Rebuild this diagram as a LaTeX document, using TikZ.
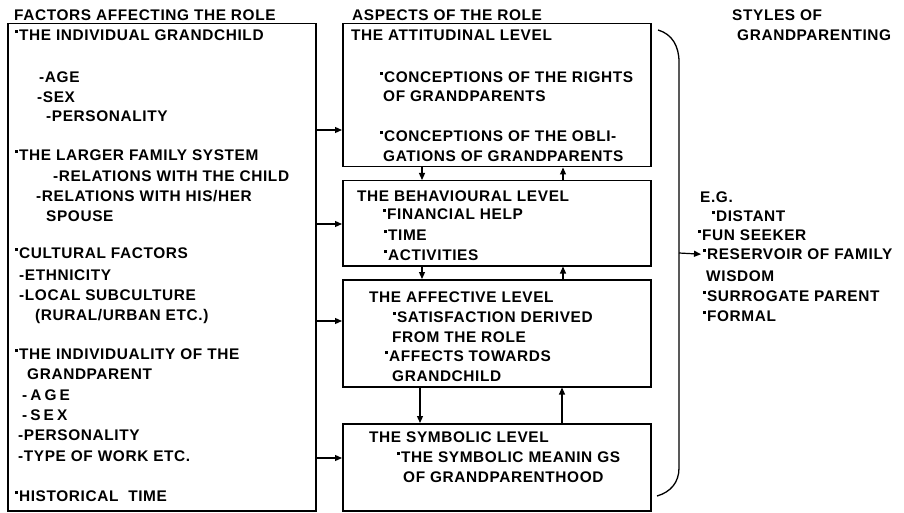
\documentclass[tikz,border=0pt]{standalone}
\usepackage{fontspec}
\setmainfont{Liberation Sans}[LetterSpace=4]
\usetikzlibrary{arrows.meta}
\newcommand\bul{\smash{\rule[7.4pt]{2.3pt}{2.8pt}}\kern1.6pt}
\begin{document}
\begin{tikzpicture}[x=1pt,y=-1pt,
  txt/.style={anchor=base west, inner sep=0pt, yshift=-5.5pt, font=\fontsize{15.4}{18}\selectfont\bfseries},
  box/.style={draw, line width=1.5pt, anchor=north west, inner sep=0pt},
  arr/.style={line width=1.2pt, -{Triangle[length=7pt,width=6pt]}},
  wide/.style={font=\fontsize{15.4}{18}\selectfont\bfseries\addfontfeature{LetterSpace=20}}]
\useasboundingbox (0,0) rectangle (904,513);

% boxes
\node[box, minimum width=308pt, minimum height=487pt] (L) at (7,23) {};
\node[box, minimum width=308pt, minimum height=143pt] (B1) at (342,23) {};
\node[box, minimum width=308pt, minimum height=85pt] (B2) at (342,180) {};
\node[box, minimum width=308pt, minimum height=107pt] (B3) at (342,279) {};
\node[box, minimum width=308pt, minimum height=87pt] (B4) at (342,423) {};

% left column text
\node[txt] (h1) at (14,15) {FACTORS AFFECTING THE ROLE};
\node[txt] (l1) at (15,35) {\bul THE INDIVIDUAL GRANDCHILD};
\node[txt] (l2) at (39,77) {-AGE};
\node[txt] (l3) at (37,97) {-SEX};
\node[txt] (l4) at (46,116) {-PERSONALITY};
\node[txt] (l5) at (15,155) {\bul THE LARGER FAMILY SYSTEM};
\node[txt] (l6) at (53,176) {-RELATIONS WITH THE CHILD};
\node[txt] (l7) at (36,196) {-RELATIONS WITH HIS/HER};
\node[txt] (l8) at (46,216) {SPOUSE};
\node[txt] (l9) at (15,253) {\bul CULTURAL FACTORS};
\node[txt] (l10) at (19,275) {-ETHNICITY};
\node[txt] (l11) at (19,295) {-LOCAL SUBCULTURE};
\node[txt] (l12) at (35,315) {(RURAL/URBAN ETC.)};
\node[txt] (l13) at (15,354) {\bul THE INDIVIDUALITY OF THE};
\node[txt] (l14) at (27,374) {GRANDPARENT};
\node[txt,wide] (l15) at (22,395) {-AGE};
\node[txt,wide] (l16) at (22,415) {-SEX};
\node[txt] (l17) at (18,435) {-PERSONALITY};
\node[txt] (l18) at (18,456) {-TYPE OF WORK ETC.};
\node[txt] (l19) at (15,496) {\bul HISTORICAL\ \ TIME};

% middle column text
\node[txt] (h2) at (352,15) {ASPECTS OF THE ROLE};
\node[txt] (a1) at (351,35) {THE ATTITUDINAL LEVEL};
\node[txt] (a2) at (380,77) {\bul CONCEPTIONS OF THE RIGHTS};
\node[txt] (a3) at (383,96) {OF GRANDPARENTS};
\node[txt] (a4) at (380,136) {\bul CONCEPTIONS OF THE OBLI-};
\node[txt] (a5) at (383,156) {GATIONS OF GRANDPARENTS};
\node[txt] (b1) at (357,196) {THE BEHAVIOURAL LEVEL};
\node[txt] (b2) at (383,214) {\bul FINANCIAL HELP};
\node[txt] (b3) at (384,235) {\bul TIME};
\node[txt] (b4) at (384,255) {\bul ACTIVITIES};
\node[txt] (c1) at (369,297) {THE AFFECTIVE LEVEL};
\node[txt] (c2) at (393,317) {\bul SATISFACTION DERIVED};
\node[txt] (c3) at (392,337) {FROM THE ROLE};
\node[txt] (c4) at (385,356) {\bul AFFECTS TOWARDS};
\node[txt] (c5) at (392,376) {GRANDCHILD};
\node[txt] (d1) at (369,437) {THE SYMBOLIC LEVEL};
\node[txt] (d2) at (397,457) {\bul THE SYMBOLIC MEANIN\kern5pt GS};
\node[txt] (d3) at (403,477) {OF GRANDPARENTHOOD};

% right column text
\node[txt] (h3) at (732,15) {STYLES OF};
\node[txt] (h4) at (737,35) {GRANDPARENTING};
\node[txt] (s0) at (700,197) {E.G.};
\node[txt] (s1) at (712,216) {\bul DISTANT};
\node[txt] (s2) at (698,235) {\bul FUN SEEKER};
\node[txt] (s3) at (703,254) {\bul RESERVOIR OF FAMILY};
\node[txt] (s4) at (706,276) {WISDOM};
\node[txt] (s5) at (703,296) {\bul SURROGATE PARENT};
\node[txt] (s6) at (703,316) {\bul FORMAL};

% arrows from factors to aspects
\draw[arr] (L.east |- 0,130) -- (B1.west |- 0,130);
\draw[arr] (L.east |- 0,224) -- (B2.west |- 0,224);
\draw[arr] (L.east |- 0,321) -- (B3.west |- 0,321);
\draw[arr] (L.east |- 0,458) -- (B4.west |- 0,458);

% arrows between levels
\draw[arr] (B1.south -| 422,0) -- (B2.north -| 422,0);
\draw[arr] (B2.north -| 563,0) -- (B1.south -| 563,0);
\draw[arr] (B2.south -| 422,0) -- (B3.north -| 422,0);
\draw[arr] (B3.north -| 563,0) -- (B2.south -| 563,0);
\draw[arr] (B3.south -| 420,0) -- (B4.north -| 420,0);
\draw[arr] (B4.north -| 562,0) -- (B3.south -| 562,0);

% brace
\draw[line width=1.3pt] (658,30) .. controls (672,34) and (679,46) .. (679,62) -- (679,468) .. controls (679,482) and (671,492) .. (657,496);
\coordinate (bm) at (679,253);
\draw[arr] (bm) -- ([xshift=-2pt]s3.west);
\end{tikzpicture}
\end{document}
